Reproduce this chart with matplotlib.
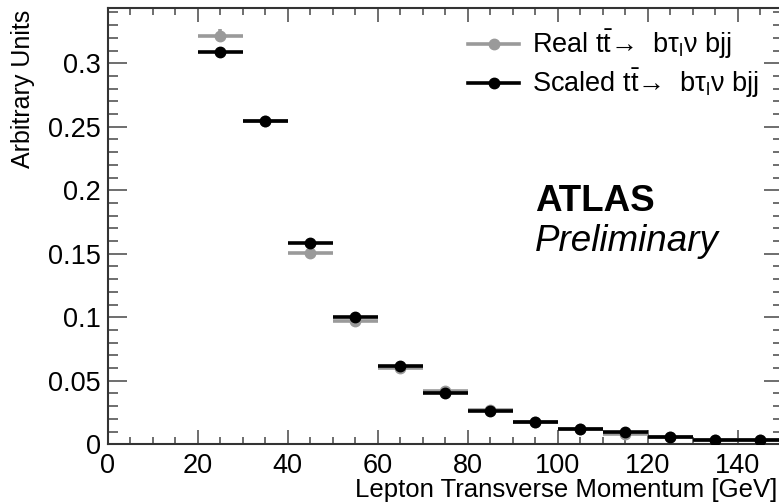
"""
plot.py — lepton pT shape comparison, real vs scaled ttbar -> b tau nu bjj (ATLAS style).
"""

import matplotlib
matplotlib.use("Agg")  # headless
import matplotlib.pyplot as plt
from matplotlib.lines import Line2D
from matplotlib.ticker import MultipleLocator

# ============================================================
# Data
# ============================================================

bin_centers = [25, 35, 45, 55, 65, 75, 85, 95, 105, 115, 125, 135, 145]
bin_half_width = 5

real_values = [0.3217, 0.2546, 0.1510, 0.0970, 0.0600, 0.0422, 0.0270,
               0.0176, 0.0118, 0.0085, 0.0060, 0.0036, 0.0034]
real_errors = [0.0050, 0.0030, 0.0025, 0.0020, 0.0015, 0.0012, 0.0010,
               0.0008, 0.0006, 0.0005, 0.0004, 0.0003, 0.0003]

scaled_values = [0.3091, 0.2546, 0.1585, 0.1000, 0.0619, 0.0402, 0.0262,
                 0.0176, 0.0118, 0.0094, 0.0060, 0.0036, 0.0034]
scaled_errors = [0.0020, 0.0018, 0.0015, 0.0012, 0.0010, 0.0008, 0.0006,
                 0.0005, 0.0004, 0.0003, 0.0003, 0.0002, 0.0002]

real_label = "Real t$\\bar{\\mathrm{t}}$\u2192  b\u03c4$_{\\mathrm{l}}$\u03bd bjj"
scaled_label = "Scaled t$\\bar{\\mathrm{t}}$\u2192  b\u03c4$_{\\mathrm{l}}$\u03bd bjj"

GRAY = "#9a9a9a"
BLACK = "#000000"
FRAME = "#333333"

# ============================================================
# Style
# ============================================================

plt.rcParams["font.family"] = ["Liberation Sans", "DejaVu Sans"]
plt.rcParams["mathtext.fontset"] = "custom"
plt.rcParams["mathtext.rm"] = "Liberation Sans"
plt.rcParams["mathtext.it"] = "Liberation Sans:italic"
plt.rcParams["mathtext.bf"] = "Liberation Sans:bold"

W, H = 779, 504
fig = plt.figure(figsize=(W / 100, H / 100), dpi=100)

# frame runs a little past the right edge of the canvas, like the reference crop
x0, x1, y_top, y_bot = 107.7, 782.7, 8.0, 444.3
ax = fig.add_axes([x0 / W, 1 - y_bot / H, (x1 - x0) / W, (y_bot - y_top) / H])

# ============================================================
# Points with horizontal bin-width bars
# ============================================================

ax.errorbar(bin_centers, real_values, xerr=bin_half_width, yerr=real_errors,
            fmt="o", color=GRAY, ms=7.5, elinewidth=2.6, capsize=0, zorder=2)
ax.errorbar(bin_centers, scaled_values, xerr=bin_half_width, yerr=scaled_errors,
            fmt="o", color=BLACK, ms=7.5, elinewidth=2.6, capsize=0, zorder=3)

ax.set_xlim(0, 150)
ax.set_ylim(0, 0.3435)

ax.xaxis.set_major_locator(MultipleLocator(20))
ax.xaxis.set_minor_locator(MultipleLocator(5))
ax.yaxis.set_major_locator(MultipleLocator(0.05))
ax.yaxis.set_minor_locator(MultipleLocator(0.01))
ax.yaxis.set_major_formatter(plt.FuncFormatter(lambda v, _: f"{v:g}"))

ax.tick_params(axis="both", which="both", direction="in", top=True, right=True,
               color="#555555", labelsize=19.5, width=1.2)
ax.tick_params(axis="x", which="major", length=10, pad=6)
ax.tick_params(axis="x", which="minor", length=5)
ax.tick_params(axis="y", which="major", length=13.5, pad=5)
ax.tick_params(axis="y", which="minor", length=7)

for side in ax.spines.values():
    side.set_color(FRAME)
    side.set_linewidth(1.5)

ax.set_xlabel("Lepton Transverse Momentum [GeV]", fontsize=18.5, loc="right")
ax.xaxis.set_label_coords((777 - x0) / (x1 - x0), -(497 - y_bot) / (y_bot - y_top))
ax.xaxis.label.set_va("baseline")

ax.set_ylabel("Arbitrary Units", fontsize=18, loc="top")
ax.yaxis.set_label_coords(-(x0 - 35) / (x1 - x0), (y_bot - 10) / (y_bot - y_top))

# ============================================================
# Legend + labels
# ============================================================

handles = [
    Line2D([], [], color=GRAY, lw=2.6, marker="o", ms=7.5),
    Line2D([], [], color=BLACK, lw=2.6, marker="o", ms=7.5),
]
ax.legend(handles, [real_label, scaled_label], loc="upper left",
          bbox_to_anchor=(468 / W, 1 - 28 / H), bbox_transform=fig.transFigure,
          frameon=False, fontsize=19.5, handlelength=1.9, handletextpad=0.47,
          labelspacing=0.22, borderpad=0, borderaxespad=0, numpoints=1)

ax.text(95, 0.184, "ATLAS", fontsize=26.5, fontweight="bold", va="baseline")
ax.text(95, 0.1525, "Preliminary", fontsize=26.5, style="italic", va="baseline")

fig.savefig("out.png", dpi=100)
plt.close(fig)
